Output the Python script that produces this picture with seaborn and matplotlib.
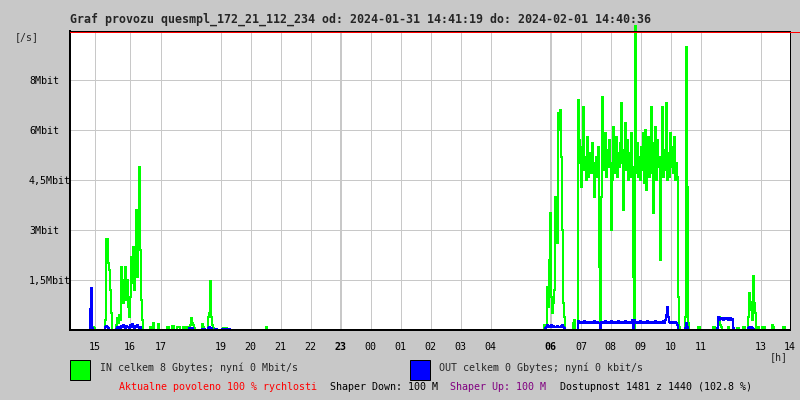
import numpy as np
import pandas as pd
import matplotlib
matplotlib.use("Agg")
import matplotlib.pyplot as plt
from matplotlib.lines import Line2D
from matplotlib.patches import Rectangle
import seaborn as sns

# ---------------- data ----------------
title = "Graf provozu quesmpl_172_21_112_234 od: 2024-01-31 14:41:19 do: 2024-02-01 14:40:36"

sample_minutes = 2          # one sample every 2 minutes
total_minutes = 1440        # 24 h window
early_start_min = 36        # first sample of the afternoon window
late_start_min = 940        # first sample of the morning window

# IN traffic [Mbit/s], afternoon window
in_early = [
    0, 0, 0, 0, 0.05, 0.1, 0.05, 0, 0, 0,
    0, 0, 0, 0, 0, 0, 0, 0.3, 2.73, 2.73,
    2.0, 1.8, 1.2, 0.5, 0, 0, 0, 0, 0.15, 0.35,
    0.2, 0.45, 0.3, 1.9, 1.1, 0.8, 1.5, 1.9, 0.9, 1.5,
    0.7, 0.4, 1.0, 2.2, 1.4, 2.5, 1.2, 2.0, 3.6, 1.6,
    3.3, 4.9, 2.4, 0.9, 0.3, 0, 0, 0, 0, 0,
    0, 0, 0.1, 0.1, 0.05, 0.2, 0, 0, 0, 0,
    0.18, 0, 0, 0, 0, 0, 0, 0, 0, 0.1,
    0.1, 0, 0, 0, 0.12, 0.12, 0, 0, 0, 0.1,
    0.1, 0.1, 0, 0, 0, 0.1, 0.1, 0, 0.1, 0.1,
    0, 0, 0.15, 0.35, 0.2, 0.15, 0.05, 0, 0, 0,
    0, 0, 0, 0, 0.18, 0.1, 0, 0, 0, 0,
    0.38, 0.5, 1.48, 0.4, 0.15, 0.05, 0, 0, 0, 0,
    0, 0, 0, 0, 0, 0.05, 0, 0, 0.05, 0,
    0, 0, 0, 0, 0, 0, 0, 0, 0, 0,
    0, 0, 0, 0, 0, 0, 0, 0, 0, 0,
    0, 0, 0, 0, 0, 0, 0, 0, 0, 0,
    0, 0, 0, 0, 0, 0, 0, 0, 0.1, 0,
    0, 0, 0,
]

# OUT traffic [Mbit/s], afternoon window
out_early = [
    0, 0, 0.63, 1.27, 0.05, 0, 0, 0, 0, 0,
    0, 0, 0, 0, 0, 0, 0, 0.08, 0.12, 0.1,
    0.05, 0, 0, 0, 0, 0, 0, 0, 0.03, 0.08,
    0.05, 0.1, 0.06, 0.12, 0.08, 0.15, 0.1, 0.05, 0.12, 0.08,
    0.1, 0.05, 0.15, 0.1, 0.18, 0.1, 0.06, 0.12, 0.08, 0.15,
    0.1, 0.05, 0.08, 0, 0, 0, 0, 0, 0, 0,
    0, 0, 0, 0, 0, 0, 0, 0, 0, 0,
    0, 0, 0, 0, 0, 0, 0, 0, 0, 0,
    0, 0, 0, 0, 0, 0, 0, 0, 0, 0,
    0, 0, 0, 0, 0, 0, 0, 0, 0, 0,
    0, 0.05, 0.05, 0.05, 0.05, 0, 0, 0, 0, 0,
    0, 0, 0, 0, 0.03, 0.03, 0.03, 0, 0, 0,
    0.05, 0.1, 0.05, 0.05, 0, 0, 0, 0.03, 0.03, 0,
    0, 0, 0, 0, 0.03, 0.03, 0.03, 0.03, 0.03, 0.03,
    0.03, 0.03, 0, 0, 0, 0, 0, 0, 0, 0,
]

# IN traffic [Mbit/s], morning window
in_late = [
    0, 0, 0, 0, 0.15, 0.15, 0.1, 1.3, 0.7, 2.1,
    3.5, 1.0, 0.5, 0.8, 1.2, 4.0, 3.0, 2.6, 6.5, 6.0,
    6.6, 5.2, 3.0, 0.8, 0.4, 0, 0, 0, 0, 0,
    0, 0, 0, 0.2, 0.3, 0, 0, 0, 6.9, 5.7,
    5.0, 4.3, 5.5, 6.7, 4.8, 5.2, 4.5, 5.8, 4.6, 5.1,
    5.3, 4.7, 5.6, 4.8, 4.0, 5.0, 5.2, 4.6, 5.5, 1.9,
    0, 4.0, 7.0, 5.5, 4.8, 5.9, 4.6, 5.4, 4.9, 5.7,
    5.0, 3.0, 4.5, 6.1, 5.2, 4.7, 5.8, 4.6, 5.3, 4.9,
    5.6, 6.8, 5.0, 3.6, 5.4, 6.2, 4.8, 5.7, 4.5, 5.3,
    4.6, 5.9, 4.9, 1.6, 0, 9.12, 4.7, 5.6, 4.6, 5.2,
    4.5, 5.5, 4.8, 5.9, 4.4, 6.0, 4.2, 5.0, 5.8, 4.6,
    5.3, 6.7, 4.7, 3.5, 5.6, 6.1, 4.5, 5.7, 4.9, 5.2,
    2.1, 5.0, 6.7, 4.6, 5.4, 4.8, 6.8, 4.5, 5.3, 4.6,
    5.9, 4.9, 5.5, 4.7, 5.8, 4.5, 5.0, 4.6, 1.0, 0.1,
    0, 0, 0, 0, 0, 0.4, 8.5, 4.3, 0.2, 0,
    0, 0, 0, 0, 0, 0, 0, 0, 0.08, 0.08,
    0, 0, 0, 0, 0, 0, 0, 0, 0, 0,
    0, 0, 0, 0.08, 0.08, 0, 0, 0, 0.2, 0.4,
    0.15, 0.1, 0, 0, 0, 0, 0, 0, 0.08, 0,
    0, 0, 0, 0, 0, 0, 0, 0.05, 0.05, 0,
    0, 0, 0, 0.08, 0.08, 0, 0, 0, 0.4, 1.1,
    0.6, 0.85, 0.3, 1.62, 0.8, 0.5, 0, 0.08, 0.08, 0,
    0, 0, 0.1, 0.05, 0.1, 0, 0, 0, 0, 0,
    0, 0, 0.15, 0.1, 0, 0, 0, 0, 0, 0,
    0, 0, 0, 0.08, 0.08, 0, 0, 0, 0, 0,
    0,
]

# OUT traffic [Mbit/s], morning window
out_late = [
    0, 0, 0, 0, 0, 0.05, 0.1, 0.15, 0.1, 0.12,
    0.1, 0.15, 0.1, 0.12, 0.1, 0.08, 0.1, 0.12, 0.1, 0.08,
    0.1, 0.12, 0.15, 0.1, 0.05, 0, 0, 0, 0, 0,
    0, 0, 0, 0, 0, 0, 0, 0, 0.28, 0.2,
    0.25, 0.22, 0.24, 0.2, 0.26, 0.22, 0.25, 0.2, 0.23, 0.21,
    0.25, 0.2, 0.24, 0.22, 0.26, 0.2, 0.23, 0.25, 0.21, 0.2,
    0.05, 0.25, 0.22, 0.24, 0.2, 0.26, 0.22, 0.25, 0.21, 0.24,
    0.2, 0.26, 0.22, 0.23, 0.25, 0.2, 0.24, 0.22, 0.26, 0.21,
    0.25, 0.22, 0.24, 0.2, 0.23, 0.26, 0.21, 0.25, 0.22, 0.24,
    0.2, 0.23, 0.3, 0.05, 0.3, 0.2, 0.25, 0.22, 0.24, 0.2,
    0.26, 0.22, 0.24, 0.21, 0.25, 0.23, 0.2, 0.26, 0.22, 0.24,
    0.21, 0.25, 0.22, 0.24, 0.2, 0.26, 0.23, 0.21, 0.25, 0.22,
    0.24, 0.2, 0.23, 0.26, 0.22, 0.3, 0.45, 0.7, 0.4, 0.25,
    0.22, 0.24, 0.2, 0.25, 0.21, 0.23, 0.2, 0.15, 0, 0,
    0, 0, 0, 0, 0, 0.05, 0.2, 0.1, 0, 0,
    0, 0, 0, 0, 0, 0, 0, 0, 0, 0,
    0, 0, 0, 0, 0, 0, 0, 0, 0, 0,
    0, 0, 0, 0, 0, 0, 0, 0.05, 0.4, 0.3,
    0.35, 0.32, 0.35, 0.3, 0.34, 0.36, 0.32, 0.35, 0.3, 0.34,
    0.35, 0.3, 0.33, 0.05, 0, 0, 0, 0, 0, 0,
    0, 0, 0, 0, 0, 0, 0, 0, 0.05, 0.08,
    0.05, 0.08, 0.05, 0.03, 0, 0, 0, 0, 0, 0,
]

hour_labels = ["15", "16", "17", "19", "20", "21", "22", "23", "00", "01", "02",
               "03", "04", "06", "07", "08", "09", "10", "11", "13", "14"]
hour_ticks = [0.82, 2.0, 3.02, 5.02, 6.02, 7.02, 8.02, 9.02, 10.02, 11.02, 12.02,
              13.02, 14.02, 16.02, 17.04, 18.02, 19.02, 20.02, 21.02, 23.02, 24.0]
bold_hours = ["23", "06"]

y_ticks = [1.5, 3.0, 4.5, 6.0, 7.5]
y_labels = ["1,5Mbit", "3Mbit", "4,5Mbit", "6Mbit", "8Mbit"]

legend_in = "IN celkem 8 Gbytes; nyní 0 Mbit/s"
legend_out = "OUT celkem 0 Gbytes; nyní 0 kbit/s"
footer = [("Aktualne povoleno 100 % rychlosti", "#ff0000"),
          ("Shaper Down: 100 M", "#000000"),
          ("Shaper Up: 100 M", "#800080"),
          ("Dostupnost 1481 z 1440 (102.8 %)", "#000000")]

# ---------------- build the table ----------------
minutes = np.arange(0, total_minutes + 1, sample_minutes)
in_full = np.zeros(len(minutes))
out_full = np.zeros(len(minutes))
i0 = early_start_min // sample_minutes
i1 = late_start_min // sample_minutes
in_full[i0:i0 + len(in_early)] = in_early
out_full[i0:i0 + len(out_early)] = out_early
in_full[i1:i1 + len(in_late)] = in_late
out_full[i1:i1 + len(out_late)] = out_late
df = pd.DataFrame({"hours": minutes / 60.0, "IN": in_full, "OUT": out_full})

# ---------------- drawing ----------------
sns.set_theme(style="white")
MONO = ["DejaVu Sans Mono"]
plt.rcParams["font.family"] = MONO

BG = "#c8c8c8"
GRID = "#c8c8c8"
W, H = 800, 400
PX = 0.72  # one pixel in points
PX_H = 1 / 30.0  # one pixel in hours along x

fig = plt.figure(figsize=(8, 4), dpi=100, facecolor=BG)
ax = fig.add_axes([70 / W, 1 - 330 / H, 720 / W, 299 / H])
ax.set_facecolor("white")

ax.set_xlim(0, 24)
ax.set_ylim(0, 299 * 0.03)

# grid
for lab, pos in zip(hour_labels, hour_ticks):
    if pos >= 24:
        continue
    if lab in bold_hours:
        ax.axvspan(pos - PX_H, pos + PX_H, color=GRID, lw=0, zorder=0.5)
    else:
        ax.axvline(pos, color=GRID, lw=PX, zorder=0.5, antialiased=False)
for yv in y_ticks:
    ax.axhline(yv, color=GRID, lw=PX, zorder=0.5, antialiased=False)

sns.lineplot(data=df, x="hours", y="IN", ax=ax, color="#00ff00", lw=PX,
             drawstyle="steps-post", estimator=None, errorbar=None,
             clip_on=False, antialiased=False, zorder=3)
sns.lineplot(data=df, x="hours", y="OUT", ax=ax, color="#0000ff", lw=PX,
             drawstyle="steps-post", estimator=None, errorbar=None,
             antialiased=False, zorder=4)

ax.set_xlabel("")
ax.set_ylabel("")

# ticks
ax.set_xticks(hour_ticks)
ax.set_xticklabels(hour_labels)
ax.tick_params(axis="x", length=0, pad=9, labelsize=7.2, colors="black")
for t in ax.get_xticklabels():
    t.set_family(MONO)
    if t.get_text() in bold_hours:
        t.set_fontweight("bold")
ax.set_yticks(y_ticks)
ax.set_yticklabels(y_labels)
ax.tick_params(axis="y", length=0, pad=29.5, labelsize=7.2, colors="black")
for t in ax.get_yticklabels():
    t.set_horizontalalignment("left")
    t.set_family(MONO)

# frame
for side in ["left", "bottom", "right", "top"]:
    ax.spines[side].set_visible(True)
    ax.spines[side].set_color("black")
    ax.spines[side].set_antialiased(False)
    ax.spines[side].set_zorder(6)
ax.spines["left"].set_linewidth(1.5 * PX)
ax.spines["bottom"].set_linewidth(2 * PX)
ax.spines["right"].set_linewidth(PX)
ax.spines["top"].set_linewidth(PX)
fig.add_artist(Line2D([70 / W, 1.0], [1 - 31.5 / H, 1 - 31.5 / H],
                      color="#ff0000", lw=PX, antialiased=False))

# texts
fig.text(70 / W, 1 - 19 / H, title, fontsize=8.4, fontweight="bold",
         family=MONO, va="center", ha="left")
fig.text(15 / W, 1 - 37 / H, "[/s]", fontsize=7.2, family=MONO, va="center", ha="left")
fig.text(770 / W, 1 - 357 / H, "[h]", fontsize=7.2, family=MONO, va="center", ha="left")

# legend boxes
fig.add_artist(Rectangle((70 / W, 1 - 380 / H), 20 / W, 20 / H, facecolor="#00ff00",
                         edgecolor="black", lw=PX))
fig.text(100 / W, 1 - 368 / H, legend_in, fontsize=7.2, family=MONO, va="center", ha="left")
fig.add_artist(Rectangle((410 / W, 1 - 380 / H), 20 / W, 20 / H, facecolor="#0000ff",
                         edgecolor="black", lw=PX))
fig.text(439 / W, 1 - 368 / H, legend_out, fontsize=7.2, family=MONO, va="center", ha="left")

footer_x = [119, 330, 450, 560]
for (txt, col), xp in zip(footer, footer_x):
    fig.text(xp / W, 1 - 387.5 / H, txt, fontsize=7.2, family=MONO, color=col,
             va="center", ha="left")

fig.savefig("out.png", dpi=100, facecolor=BG)
